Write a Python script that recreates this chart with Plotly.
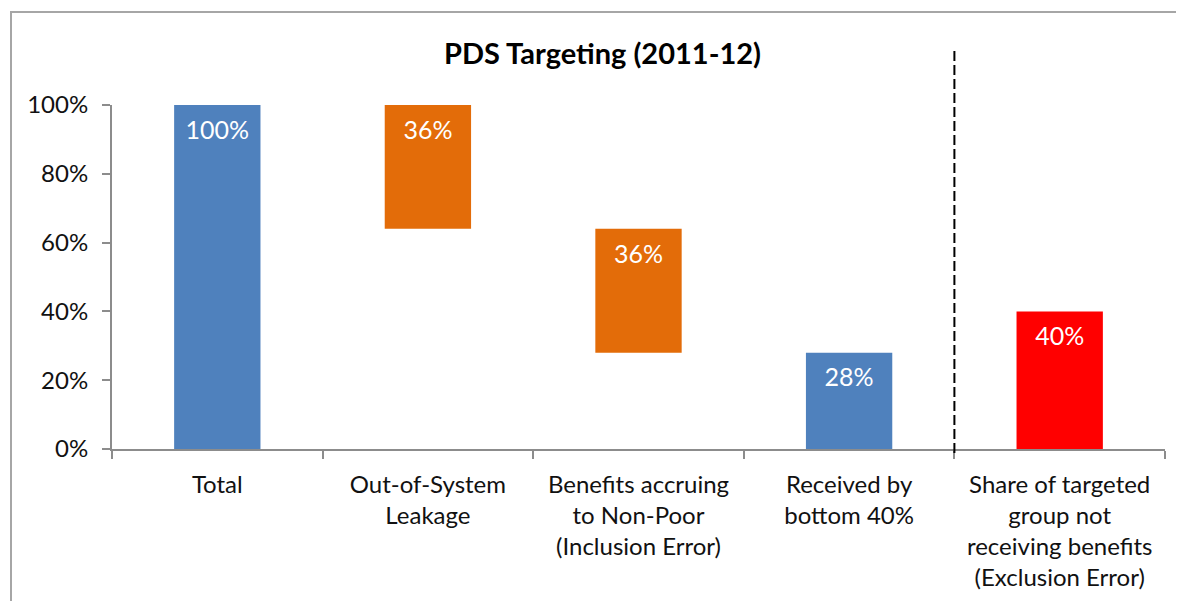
import plotly.graph_objects as go

categories = [
    "Total",
    "Out-of-System<br>Leakage",
    "Benefits accruing<br>to Non-Poor<br>(Inclusion Error)",
    "Received by<br>bottom 40%",
    "Share of targeted<br>group not<br>receiving benefits<br>(Exclusion Error)",
]
values = [100, 36, 36, 28, 40]
colors = ["#4F81BD", "#E36C09", "#E36C09", "#4F81BD", "#FF0000"]

# waterfall bases: the two leakage steps hang down from the running total
bases = [0, values[0] - values[1], values[0] - values[1] - values[2], 0, 0]
tops = [b + v for b, v in zip(bases, values)]

FONT = "Lato"
OFF = 8  # page body margin
W, H = 1184 - 2 * OFF, 609 - 2 * OFF  # keep the page from scrolling
L, T = 112 - OFF, 105 - OFF
R = W - L - 1053
B = H - T - 344
pw, ph = W - L - R, H - T - B


def px(x):
    return (x - OFF - L) / pw


def py(y):
    return (H - B - (y - OFF)) / ph


fig = go.Figure()
fig.add_trace(go.Bar(
    x=categories, y=values, base=bases,
    marker=dict(color=colors, line=dict(width=0)),
    width=0.41, hoverinfo="skip",
))
fig.add_trace(go.Scatter(
    x=categories, y=[t - 8 for t in tops],
    text=[f"{v}%" for v in values], mode="text",
    textfont=dict(family=FONT, size=25, color="white"),
    hoverinfo="skip",
))

# outer frame (only left and top edges fall inside the picture)
fx0, fx1, fy0, fy1 = px(11), px(1260), py(12), py(700)
fig.add_shape(type="path", xref="paper", yref="paper",
              path=f"M {fx0},{fy1} L {fx0},{fy0} L {fx1},{fy0}",
              line=dict(color="#A6A6A6", width=2), layer="below")
# dashed separator before exclusion error
fig.add_shape(type="line", xref="x", yref="paper",
              x0=3.5, x1=3.5, y0=py(51), y1=py(456),
              line=dict(color="black", width=2, dash="10px,4px"))

fig.add_annotation(text="<b>PDS Targeting (2011-12)</b>", xref="paper", yref="paper",
                   x=px(602), y=py(53), xanchor="center", yanchor="middle",
                   showarrow=False,
                   font=dict(family=FONT, size=29, color="black"))

fig.update_layout(
    width=W, height=H,
    margin=dict(l=L, r=R, t=T, b=B),
    plot_bgcolor="white", paper_bgcolor="white",
    showlegend=False,
    font=dict(family=FONT, size=24, color="#111111"),
)
fig.update_xaxes(
    showline=True, linecolor="#8C8C8C", linewidth=2,
    ticks="outside", tickson="boundaries", ticklen=8, tickcolor="#8C8C8C", tickwidth=2,
    ticklabelstandoff=13, showgrid=False, range=[-0.5, 4.5],
)
fig.update_yaxes(
    range=[0, 100], dtick=20, ticksuffix="%",
    showline=True, linecolor="#8C8C8C", linewidth=2,
    ticks="outside", ticklen=8, tickcolor="#8C8C8C", tickwidth=2,
    showgrid=False, zeroline=False, ticklabelstandoff=9,
)

fig.write_html("out.html")
